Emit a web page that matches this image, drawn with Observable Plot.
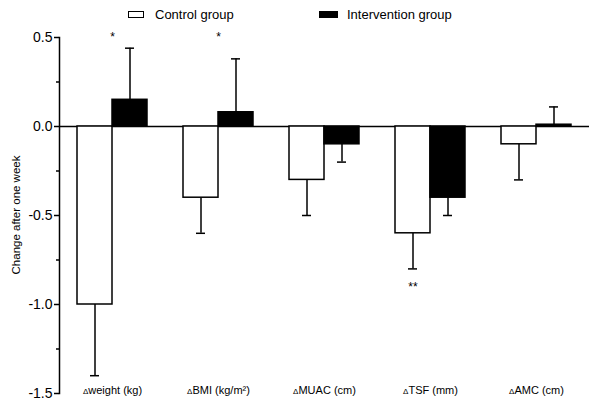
<!DOCTYPE html>
<html><head><meta charset="utf-8">
<script src="https://cdn.jsdelivr.net/npm/d3@7"></script>
<script src="https://cdn.jsdelivr.net/npm/@observablehq/plot@0.6"></script>
<style>
body{margin:0;background:#fff;font-family:"Liberation Sans",Arial,sans-serif;}
#legend{position:relative;width:600px;height:28px;font-size:13px;color:#000;}
.sw{position:absolute;top:11px;height:7px;box-sizing:border-box;border:1.5px solid #000;}
.lt{position:absolute;top:7px;line-height:15px;white-space:nowrap;}
</style></head>
<body>
<div id="legend"></div>
<div id="chart"></div>
<script>
const categories = ["Δweight (kg)", "ΔBMI (kg/m²)", "ΔMUAC (cm)", "ΔTSF (mm)", "ΔAMC (cm)"];
const groups = ["Control group", "Intervention group"];
const controlMean = [-1.0, -0.4, -0.3, -0.6, -0.1];
const controlErr = [-1.4, -0.6, -0.5, -0.8, -0.3];
const interventionMean = [0.15, 0.08, -0.1, -0.4, 0.01];
const interventionErr = [0.44, 0.38, -0.2, -0.5, 0.11];
const yTicks = [-1.5, -1.0, -0.5, 0.0, 0.5];
const yMinorTicks = [-1.25, -0.75, -0.25, 0.25];
const yDomain = [-1.5, 0.5];
const yLabel = "Change after one week";
const groupStars = [{category: categories[0], label: "*", y: 0.5}, {category: categories[1], label: "*", y: 0.5}];
const barStars = [{category: categories[3], group: groups[0], label: "**", y: -0.9}];

const rows = [];
categories.forEach((c, i) => {
  rows.push({category: c, group: groups[0], mean: controlMean[i], err: controlErr[i]});
  rows.push({category: c, group: groups[1], mean: interventionMean[i], err: interventionErr[i]});
});

// legend
const colors = ["white", "black"];
const legend = document.getElementById("legend");
const swLeft = [128, 319], swWidth = [16, 19], txLeft = [155, 347];
groups.forEach((g, i) => {
  const s = document.createElement("div");
  s.className = "sw"; s.style.left = swLeft[i] + "px"; s.style.width = swWidth[i] + "px"; s.style.background = colors[i];
  legend.appendChild(s);
  const t = document.createElement("div");
  t.className = "lt"; t.style.left = txLeft[i] + "px"; t.textContent = g;
  legend.appendChild(t);
});

const plot = Plot.plot({
  width: 600,
  height: 379,
  marginTop: 9,
  marginBottom: 14,
  marginLeft: 58,
  marginRight: 10,
  style: {fontFamily: "'Liberation Sans', Arial, sans-serif", background: "white", color: "black"},
  fx: {domain: categories, padding: 0, axis: null, label: null},
  x: {domain: groups, paddingInner: 0, paddingOuter: 0.5, axis: null},
  y: {domain: yDomain, axis: null},
  color: {domain: groups, range: colors},
  marks: [
    Plot.ruleY([0], {strokeWidth: 1.5}),
    Plot.ruleX(rows, {fx: "category", x: "group", y1: "mean", y2: "err", strokeWidth: 1.5}),
    Plot.tickY(rows, {fx: "category", x: "group", y: "err", insetLeft: 13, insetRight: 13, strokeWidth: 1.5}),
    Plot.barY(rows, {fx: "category", x: "group", y: "mean", fill: "group", stroke: "black", strokeWidth: 1.5}),
    Plot.text(groupStars, {fx: "category", y: "y", text: "label", fontSize: 12}),
    Plot.text(barStars, {fx: "category", x: "group", y: "y", text: "label", fontSize: 12}),
    Plot.text(categories, {fx: d => d, text: d => d, frameAnchor: "bottom", fontSize: 11, className: "catlab"}),
    Plot.frame({anchor: "left", facet: "super", strokeWidth: 1.5}),
    Plot.axisY({ticks: yTicks, tickFormat: d => d.toFixed(1), tickSize: 5, tickPadding: 2, fontSize: 14, label: null, strokeWidth: 1.5}),
    Plot.axisY({ticks: yMinorTicks, tickFormat: () => "", tickSize: 3, label: null, strokeWidth: 1.5})
  ]
});
document.getElementById("chart").appendChild(plot);

// smaller delta glyph in the category labels
d3.select(plot).selectAll(".catlab text").each(function() {
  const s = this.textContent;
  if (s.startsWith("Δ")) {
    const el = d3.select(this);
    el.text(null);
    el.append("tspan").attr("font-size", 8).text("Δ");
    el.append("tspan").text(s.slice(1));
  }
});

d3.select(plot).append("text")
  .attr("transform", "translate(16,187) rotate(-90)")
  .attr("text-anchor", "middle")
  .attr("dy", "0.35em")
  .attr("font-size", 11.5)
  .attr("fill", "black")
  .text(yLabel);
</script>
</body></html>
